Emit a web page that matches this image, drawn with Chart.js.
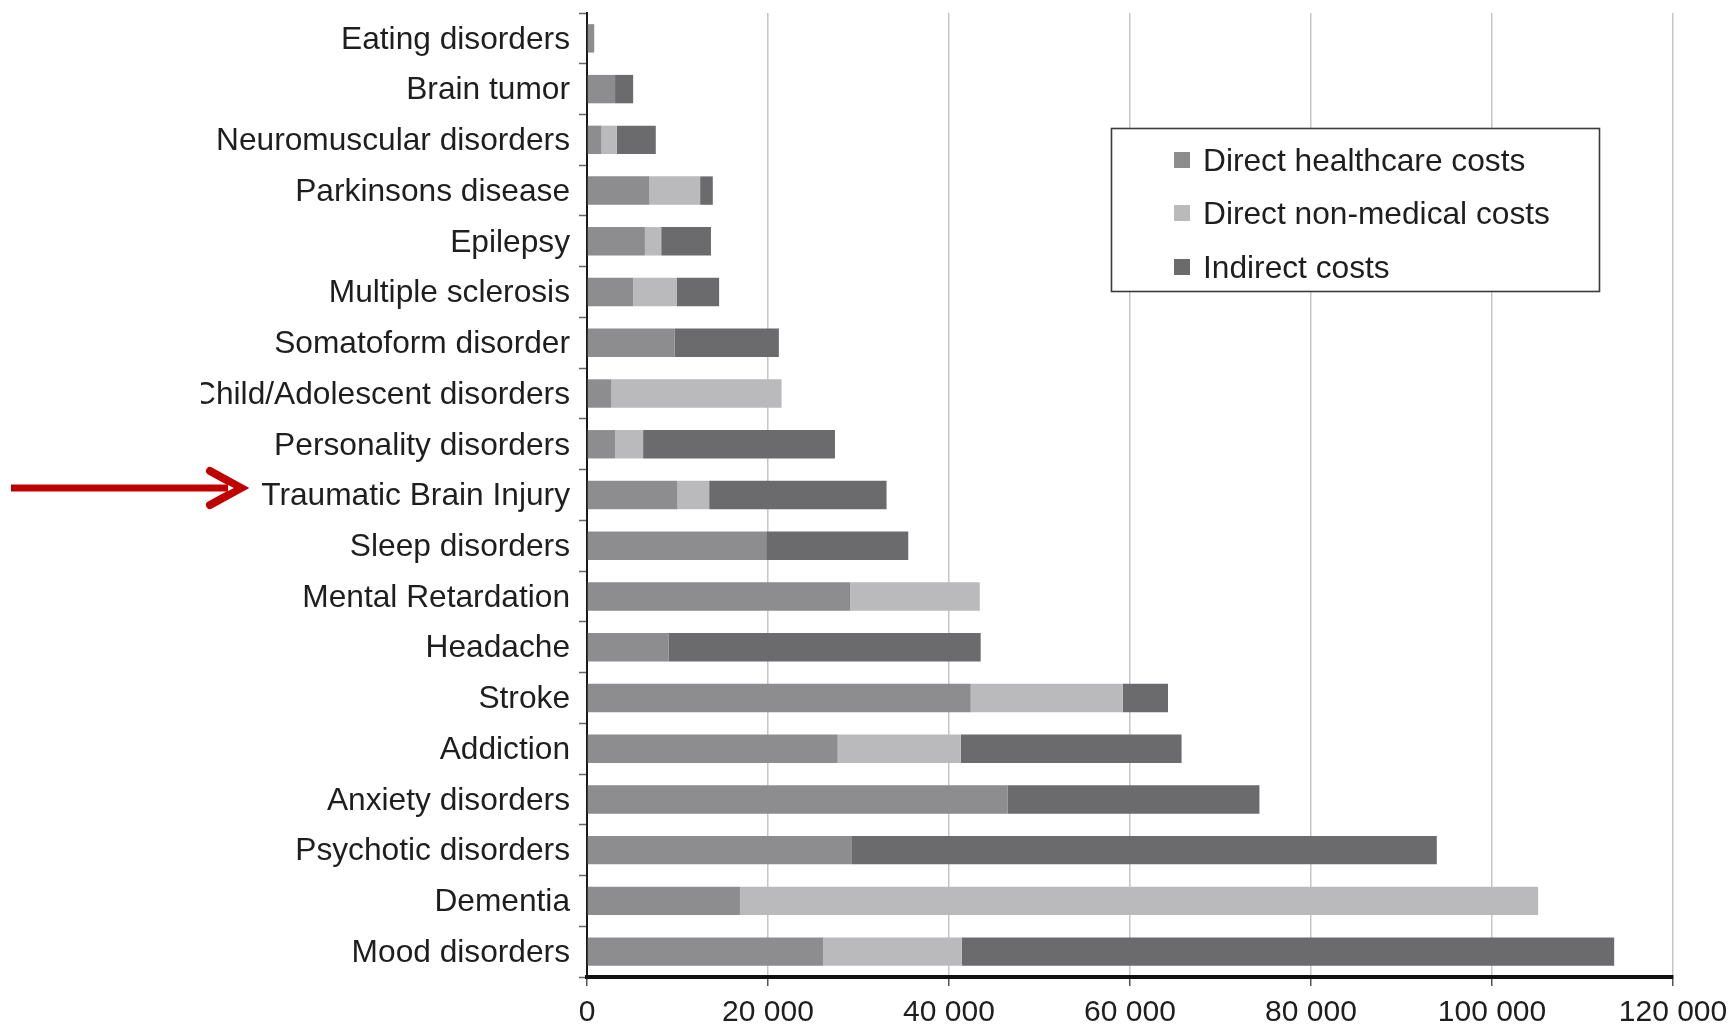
<!DOCTYPE html>
<html>
<head>
<meta charset="utf-8">
<title>Annual cost per patient by brain disorder</title>
<script src="https://cdn.jsdelivr.net/npm/chart.js@4/dist/chart.umd.min.js"></script>
<style>
  html, body { margin: 0; padding: 0; background: #ffffff; }
  #wrap { width: 1735px; height: 1027px; position: relative; }
</style>
</head>
<body>
<div id="wrap"><canvas id="c" width="1735" height="1027"></canvas></div>
<script>
// Disorders, listed top to bottom
const categories = [
  'Eating disorders', 'Brain tumor', 'Neuromuscular disorders', 'Parkinsons disease',
  'Epilepsy', 'Multiple sclerosis', 'Somatoform disorder', 'Child/Adolescent disorders',
  'Personality disorders', 'Traumatic Brain Injury', 'Sleep disorders',
  'Mental Retardation', 'Headache', 'Stroke', 'Addiction', 'Anxiety disorders',
  'Psychotic disorders', 'Dementia', 'Mood disorders'
];

const seriesNames = ['Direct healthcare costs', 'Direct non-medical costs', 'Indirect costs'];

// Cost components per patient
const directHealthcare = [800, 3100, 1600, 6900, 6400, 5100, 9700, 2700, 3100, 10000, 19800, 29100, 9000, 42400, 27700, 46500, 29200, 16900, 26100];
const directNonMedical = [0, 0, 1700, 5600, 1800, 4800, 0, 18800, 3100, 3500, 0, 14300, 0, 16800, 13600, 0, 0, 88200, 15300];
const indirectCosts    = [0, 2000, 4300, 1400, 5500, 4700, 11500, 0, 21200, 19600, 15700, 0, 34500, 5000, 24400, 27800, 64700, 0, 72100];

const xTickLabels = ['0', '20 000', '40 000', '60 000', '80 000', '100 000', '120 000'];

const seriesColors = ['#8d8d8f', '#bababc', '#6b6b6d'];
const FONT = '"Liberation Sans", Arial, Helvetica, sans-serif';
const TEXT = '#1e1e1e';

// Left edge below which the y labels are cut off
const LABEL_CLIP_X = 201;

const labelClip = {
  id: 'labelClip',
  beforeDraw(chart) {
    const ctx = chart.ctx;
    ctx.save();
    ctx.beginPath();
    ctx.rect(LABEL_CLIP_X, 0, chart.width - LABEL_CLIP_X, chart.height);
    ctx.clip();
  },
  beforeDatasetsDraw(chart) {
    chart.ctx.restore();
  }
};

// Boxed legend inside the plot area
const boxedLegend = {
  id: 'boxedLegend',
  afterDraw(chart) {
    const ctx = chart.ctx;
    const bx = 1111, by = 128, bw = 488, bh = 163;
    ctx.save();
    ctx.fillStyle = '#ffffff';
    ctx.fillRect(bx, by, bw, bh);
    ctx.strokeStyle = '#3a3a3a';
    ctx.lineWidth = 1.6;
    ctx.strokeRect(bx + 0.5, by + 0.5, bw, bh);
    const rows = [161, 214, 268];
    ctx.font = '31.7px ' + FONT;
    ctx.textBaseline = 'middle';
    ctx.textAlign = 'left';
    chart.data.datasets.forEach((ds, i) => {
      ctx.fillStyle = ds.backgroundColor;
      ctx.fillRect(1174, rows[i] - 9, 16, 16);
      ctx.fillStyle = TEXT;
      ctx.fillText(ds.label, 1203, rows[i] + 1);
    });
    ctx.restore();
  }
};

// Red pointer arrow next to one category label
const pointerArrow = {
  id: 'pointerArrow',
  afterDraw(chart) {
    const ctx = chart.ctx;
    const yScale = chart.scales.y;
    const y = yScale.getPixelForValue(categories.indexOf('Traumatic Brain Injury')) - 7;
    ctx.save();
    ctx.strokeStyle = '#c00000';
    ctx.lineWidth = 7;
    ctx.lineCap = 'butt';
    ctx.beginPath();
    ctx.moveTo(11, y);
    ctx.lineTo(236, y);
    ctx.stroke();
    ctx.lineWidth = 8;
    ctx.lineCap = 'round';
    ctx.lineJoin = 'miter';
    ctx.beginPath();
    ctx.moveTo(210, y - 17);
    ctx.lineTo(241, y);
    ctx.lineTo(210, y + 17);
    ctx.stroke();
    ctx.fillStyle = '#ffffff';
    ctx.beginPath();
    ctx.moveTo(228, y - 3);
    ctx.lineTo(234, y);
    ctx.lineTo(228, y + 3);
    ctx.closePath();
    ctx.fill();
    ctx.restore();
  }
};

const datasets = [directHealthcare, directNonMedical, indirectCosts].map((vals, i) => ({
  label: seriesNames[i],
  data: vals,
  backgroundColor: seriesColors[i],
  borderWidth: 0,
  categoryPercentage: 1.0,
  barPercentage: 0.56
}));

new Chart(document.getElementById('c'), {
  type: 'bar',
  data: { labels: categories, datasets },
  plugins: [labelClip, boxedLegend, pointerArrow],
  options: {
    indexAxis: 'y',
    responsive: false,
    animation: false,
    devicePixelRatio: 1,
    layout: { padding: { top: 13, right: 62, left: 0, bottom: 0 } },
    plugins: { legend: { display: false }, tooltip: { enabled: false } },
    scales: {
      x: {
        stacked: true,
        min: 0,
        max: 120000,
        ticks: {
          stepSize: 20000,
          color: TEXT,
          font: { family: FONT, size: 30 },
          padding: 9,
          maxRotation: 0,
          callback: (v, i) => xTickLabels[i]
        },
        grid: {
          color: '#c6c6c6',
          lineWidth: 1.5,
          tickLength: 9,
          tickColor: '#555555',
          tickWidth: 1.5
        },
        border: { display: true, color: '#111111', width: 4 },
        afterFit(scale) {
          scale.height = 50;
          scale.paddingLeft = 0;
          scale.paddingRight = 0;
        }
      },
      y: {
        stacked: true,
        ticks: {
          color: TEXT,
          font: { family: FONT, size: 31.7 },
          padding: 9,
          labelOffset: 1.5,
          autoSkip: false
        },
        grid: {
          offset: true,
          drawOnChartArea: false,
          drawTicks: true,
          tickLength: 8,
          tickColor: '#666666',
          tickWidth: 1.5
        },
        border: { display: true, color: '#1a1a1a', width: 2 },
        afterFit(scale) {
          scale.width = 587;
          scale.paddingTop = 0;
          scale.paddingBottom = 0;
        }
      }
    }
  }
});
</script>
</body>
</html>
